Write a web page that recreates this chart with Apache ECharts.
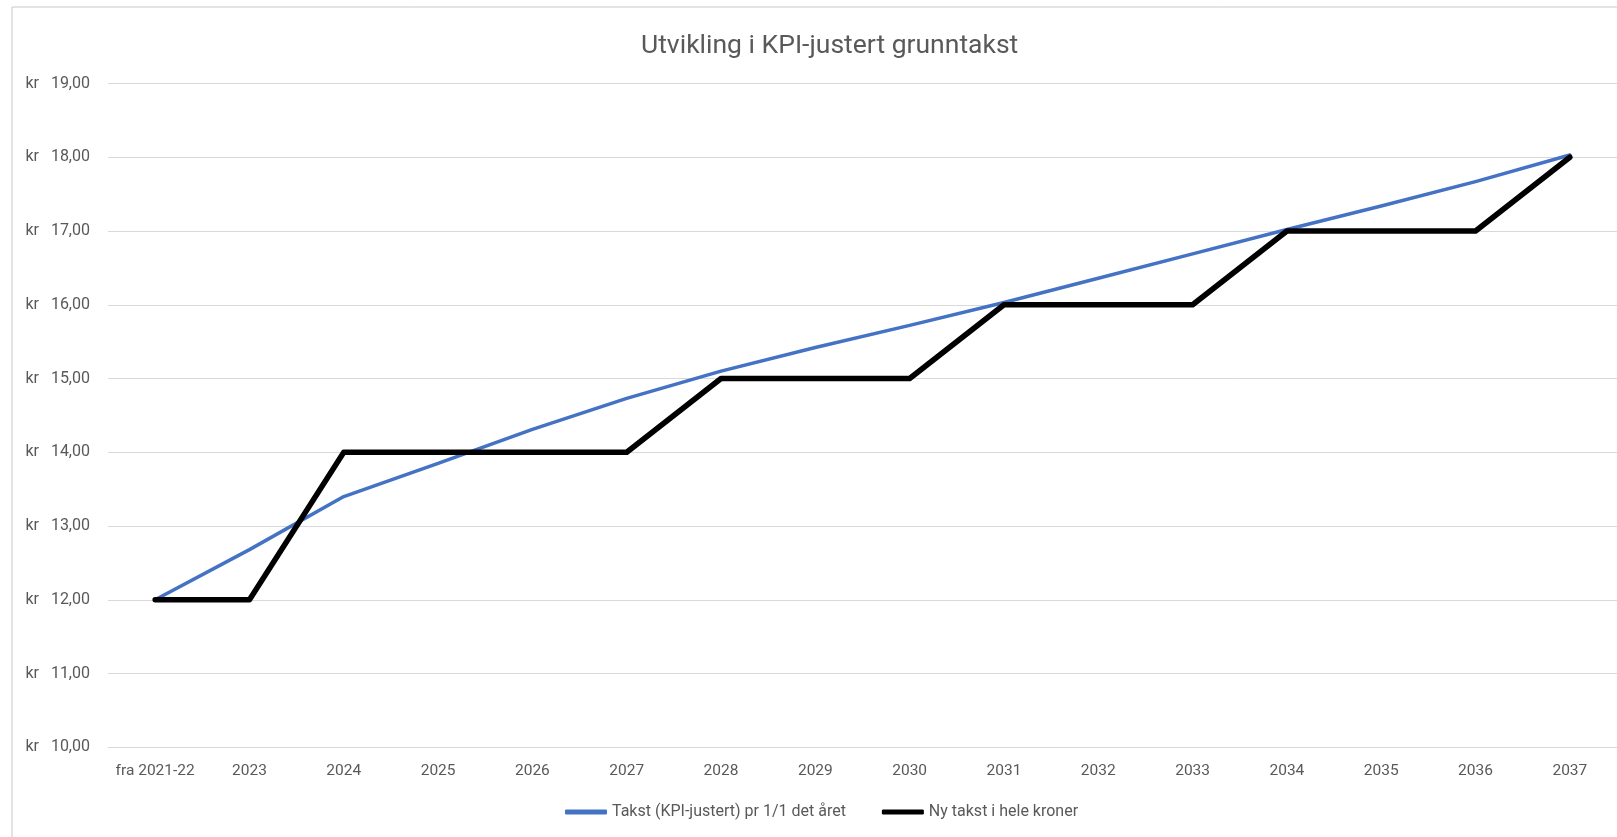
<!DOCTYPE html>
<html>
<head>
<meta charset="utf-8">
<script src="https://cdn.jsdelivr.net/npm/echarts@6/dist/echarts.min.js"></script>
<style>
  html, body { margin: 0; padding: 0; background: #fff; }
  #chart { width: 1617px; height: 837px; }
</style>
</head>
<body>
<div id="chart"></div>
<script>
// categories and series
var years = ['fra 2021-22', '2023', '2024', '2025', '2026', '2027', '2028', '2029',
  '2030', '2031', '2032', '2033', '2034', '2035', '2036', '2037'];
var kpiTakst = [12.00, 12.68, 13.40, 13.85, 14.31, 14.73, 15.10, 15.42,
  15.72, 16.03, 16.36, 16.69, 17.02, 17.34, 17.67, 18.03];
var helekroner = [12, 12, 14, 14, 14, 14, 15, 15, 15, 16, 16, 16, 17, 17, 17, 18];
var seriesNames = ['Takst (KPI-justert) pr 1/1 det året', 'Ny takst i hele kroner'];

var font = 'Roboto, sans-serif';
var grey = '#595959';

var chart = echarts.init(document.getElementById('chart'));
chart.setOption({
  animation: false,
  backgroundColor: '#fff',
  textStyle: { fontFamily: font },
  title: {
    text: 'Utvikling i KPI-justert grunntakst',
    left: 636,
    top: 28,
    textStyle: { fontFamily: font, fontSize: 26.5, fontWeight: 'normal', color: grey }
  },
  graphic: [{
    type: 'rect',
    shape: { x: 12, y: 7, width: 1700, height: 900 },
    style: { fill: 'none', stroke: '#c8c8c8', lineWidth: 1 },
    silent: true
  }],
  legend: {
    left: 560,
    top: 799,
    icon: 'roundRect',
    itemWidth: 42,
    itemHeight: 5,
    itemGap: 36,
    textStyle: { fontFamily: font, fontSize: 16, color: grey },
    data: seriesNames
  },
  grid: { left: 108, top: 83.5, width: 1511, height: 663.8, containLabel: false },
  xAxis: {
    type: 'category',
    data: years,
    boundaryGap: true,
    axisLine: { lineStyle: { color: '#d9d9d9' } },
    axisTick: { show: false },
    axisLabel: { fontFamily: font, fontSize: 15.5, color: grey, margin: 16, interval: 0 }
  },
  yAxis: {
    type: 'value',
    min: 10,
    max: 19,
    interval: 1,
    axisLine: { show: false },
    axisTick: { show: false },
    splitLine: { lineStyle: { color: '#d9d9d9', width: 1 } },
    axisLabel: {
      fontFamily: font, fontSize: 16, color: grey, margin: 18,
      formatter: function (v) { return 'kr   ' + v.toFixed(2).replace('.', ','); }
    }
  },
  series: [{
    name: seriesNames[0],
    type: 'line',
    data: kpiTakst,
    symbol: 'none',
    color: '#4472C4',
    lineStyle: { width: 3.5, color: '#4472C4', cap: 'round', join: 'round' }
  }, {
    name: seriesNames[1],
    type: 'line',
    data: helekroner,
    symbol: 'none',
    color: '#000000',
    lineStyle: { width: 5.5, color: '#000000', cap: 'round', join: 'round' }
  }]
});
</script>
</body>
</html>
